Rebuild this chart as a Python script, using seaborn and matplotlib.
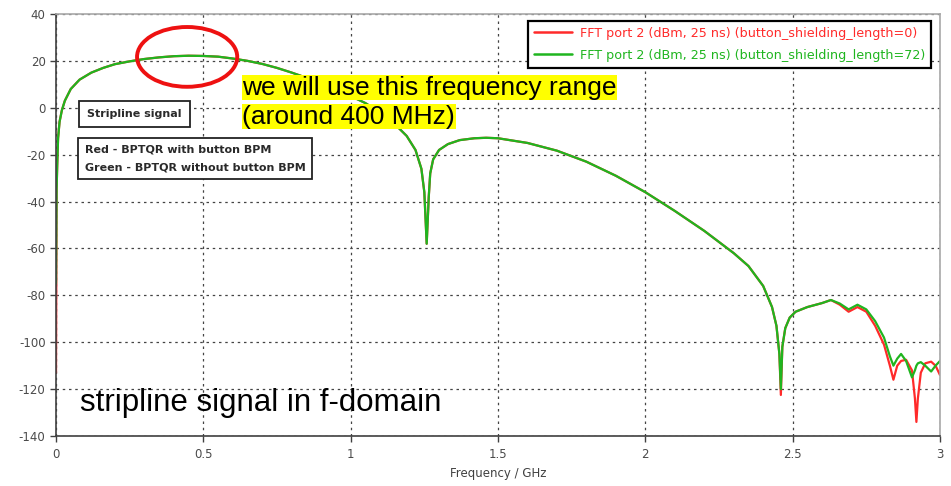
import numpy as np
import pandas as pd
import matplotlib
matplotlib.use("Agg")
import matplotlib.pyplot as plt
from matplotlib.patches import Ellipse
import seaborn as sns

# Frequency grid (GHz) shared by both spectra
freq_ghz = [
    0.0, 0.002, 0.004, 0.007, 0.012, 0.02, 0.03, 0.05, 0.08, 0.12,
    0.16, 0.2, 0.25, 0.3, 0.35, 0.4, 0.45, 0.5, 0.55, 0.6,
    0.65, 0.7, 0.75, 0.8, 0.85, 0.9, 0.95, 1.0, 1.05, 1.1,
    1.15, 1.19, 1.22, 1.24, 1.25, 1.258, 1.265, 1.27, 1.28, 1.3,
    1.33, 1.37, 1.42, 1.46, 1.5, 1.6, 1.7, 1.8, 1.9, 2.0,
    2.1, 2.2, 2.3, 2.35, 2.4, 2.43, 2.445, 2.455, 2.46, 2.465,
    2.475, 2.49, 2.51, 2.55, 2.6, 2.63, 2.66, 2.69, 2.72, 2.75,
    2.78, 2.81, 2.83, 2.842, 2.855, 2.868, 2.885, 2.905, 2.915, 2.92,
    2.925, 2.935, 2.95, 2.97, 2.985, 3.0,
]

# FFT port 2, button_shielding_length=72 (dBm)
green_dbm = [
    -75, -35, -25, -13, -6, -1, 3, 8, 12, 15,
    17, 18.6, 19.8, 20.8, 21.5, 22, 22.2, 22.1, 21.8, 21,
    20, 18.7, 17, 15, 12.8, 10.5, 8, 5, 2, -2,
    -7, -12, -18, -26, -36, -58, -38, -28, -22, -18,
    -15.5, -13.8, -13, -12.8, -13, -15, -18.3, -23, -29, -36,
    -44, -52.5, -62, -67.5, -76, -85, -93, -105, -120, -102,
    -94, -89.5, -87, -85, -83.3, -82, -83.5, -86, -84, -86,
    -91, -98, -106, -110, -107, -105, -108, -115, -112, -110,
    -109, -108.5, -110, -112.5, -110, -108,
]

# FFT port 2, button_shielding_length=0 (dBm)
red_dbm = [
    -113, -35, -25, -13, -6, -1, 3, 8, 12, 15,
    17, 18.6, 19.8, 20.8, 21.5, 22, 22.2, 22.1, 21.8, 21,
    20, 18.7, 17, 15, 12.8, 10.5, 8, 5, 2, -2,
    -7, -12, -18, -26, -36, -58, -38, -28, -22, -18,
    -15.5, -13.8, -13, -12.8, -13, -15, -18.3, -23, -29, -36,
    -44, -52.5, -62, -67.5, -76, -85, -93, -105, -122.5, -102,
    -94, -89.5, -87, -85, -83.3, -82, -84, -87, -85, -87,
    -93, -101, -110, -116, -110, -108, -107.5, -112, -124, -134,
    -124, -113, -109, -108.3, -110, -114,
]

series_labels = [
    "FFT port 2 (dBm, 25 ns) (button_shielding_length=0)",
    "FFT port 2 (dBm, 25 ns) (button_shielding_length=72)",
]
x_ticks = [0, 0.5, 1, 1.5, 2, 2.5, 3]
x_tick_labels = ["0", "0.5", "1", "1.5", "2", "2.5", "3"]
y_ticks = [40, 20, 0, -20, -40, -60, -80, -100, -120, -140]

df = pd.DataFrame({
    "f": freq_ghz * 2,
    "val": red_dbm + green_dbm,
    "series": [series_labels[0]] * len(freq_ghz) + [series_labels[1]] * len(freq_ghz),
})

sns.set_theme(style="white")
plt.rcParams["font.family"] = ["DejaVu Sans"]
plt.rcParams["axes.unicode_minus"] = False

fig = plt.figure(figsize=(9.51, 4.86), dpi=100)
ax = fig.add_axes([0.0589, 0.1029, 0.9295, 0.8683])

palette = {series_labels[0]: "#ff2a2a", series_labels[1]: "#1fb51f"}
sns.lineplot(data=df, x="f", y="val", hue="series", palette=palette,
             sort=False, estimator=None, linewidth=1.6, ax=ax)

ax.set_xlim(0, 3)
ax.set_ylim(-140, 40)
ax.set_xticks(x_ticks)
ax.set_xticklabels(x_tick_labels)
ax.set_yticks(y_ticks)
ax.set_xlabel("Frequency / GHz", fontsize=8.5, color="#404040", labelpad=4)
ax.set_ylabel("")
ax.tick_params(axis="both", labelsize=8.5, labelcolor="#4a4a4a", length=4,
               width=1, color="#404040", direction="out", bottom=True, left=True)
ax.tick_params(axis="x", pad=5)
ax.grid(True, linestyle=(0, (2, 3)), color="#444444", linewidth=0.9)
ax.set_axisbelow(True)
for side in ("left", "bottom"):
    ax.spines[side].set_color("#404040")
    ax.spines[side].set_linewidth(1.2)
for side in ("top", "right"):
    ax.spines[side].set_color("#a8a8a8")
    ax.spines[side].set_linewidth(1.2)

leg = ax.legend(loc="upper right", bbox_to_anchor=(0.9895, 0.983), fontsize=9.2,
                labelcolor="linecolor", frameon=True, fancybox=False,
                framealpha=1, edgecolor="black", handlelength=3,
                borderpad=0.45, labelspacing=0.7, handletextpad=0.6,
                borderaxespad=0)
leg.get_frame().set_linewidth(1.6)
for line in leg.get_lines():
    line.set_linewidth(1.8)

# Highlighted frequency band around the spectrum maximum
ell = Ellipse((0.445, 21.7), 0.34, 25.5, fill=False, edgecolor="#ee1111",
              linewidth=2.8, zorder=6)
ax.add_patch(ell)

# Explanatory boxes
box_kw = dict(boxstyle="square,pad=0.75", facecolor="white", edgecolor="#222222",
              linewidth=1.3)
ax.text(0.105, -2.6, "Stripline signal", fontsize=8, fontweight="bold",
        color="#2a2a2a", va="center", ha="left", bbox=box_kw, zorder=7)
box_kw2 = dict(box_kw, boxstyle="square,pad=0.6")
ax.text(0.098, -21.7, "Red - BPTQR with button BPM\nGreen - BPTQR without button BPM",
        fontsize=8, fontweight="bold", color="#2a2a2a", va="center", ha="left",
        linespacing=1.95, bbox=box_kw2, zorder=7)

# Yellow-highlighted note
note_kw = dict(fontsize=19, family="Liberation Sans", color="black", ha="left",
               va="center", zorder=8)
ax.text(0.632, 8.5, "we will use this frequency range",
        bbox=dict(boxstyle="square,pad=0.02", facecolor="#ffff00", edgecolor="none"),
        **note_kw)
ax.text(0.632, -3.8, "(around 400 MHz)",
        bbox=dict(boxstyle="square,pad=0.02", facecolor="#ffff00", edgecolor="none"),
        **note_kw)

ax.text(0.082, -125.8, "stripline signal in f-domain", fontsize=22.5,
        family="Liberation Sans", color="black", ha="left", va="center", zorder=8)

fig.savefig("out.png", dpi=100)
